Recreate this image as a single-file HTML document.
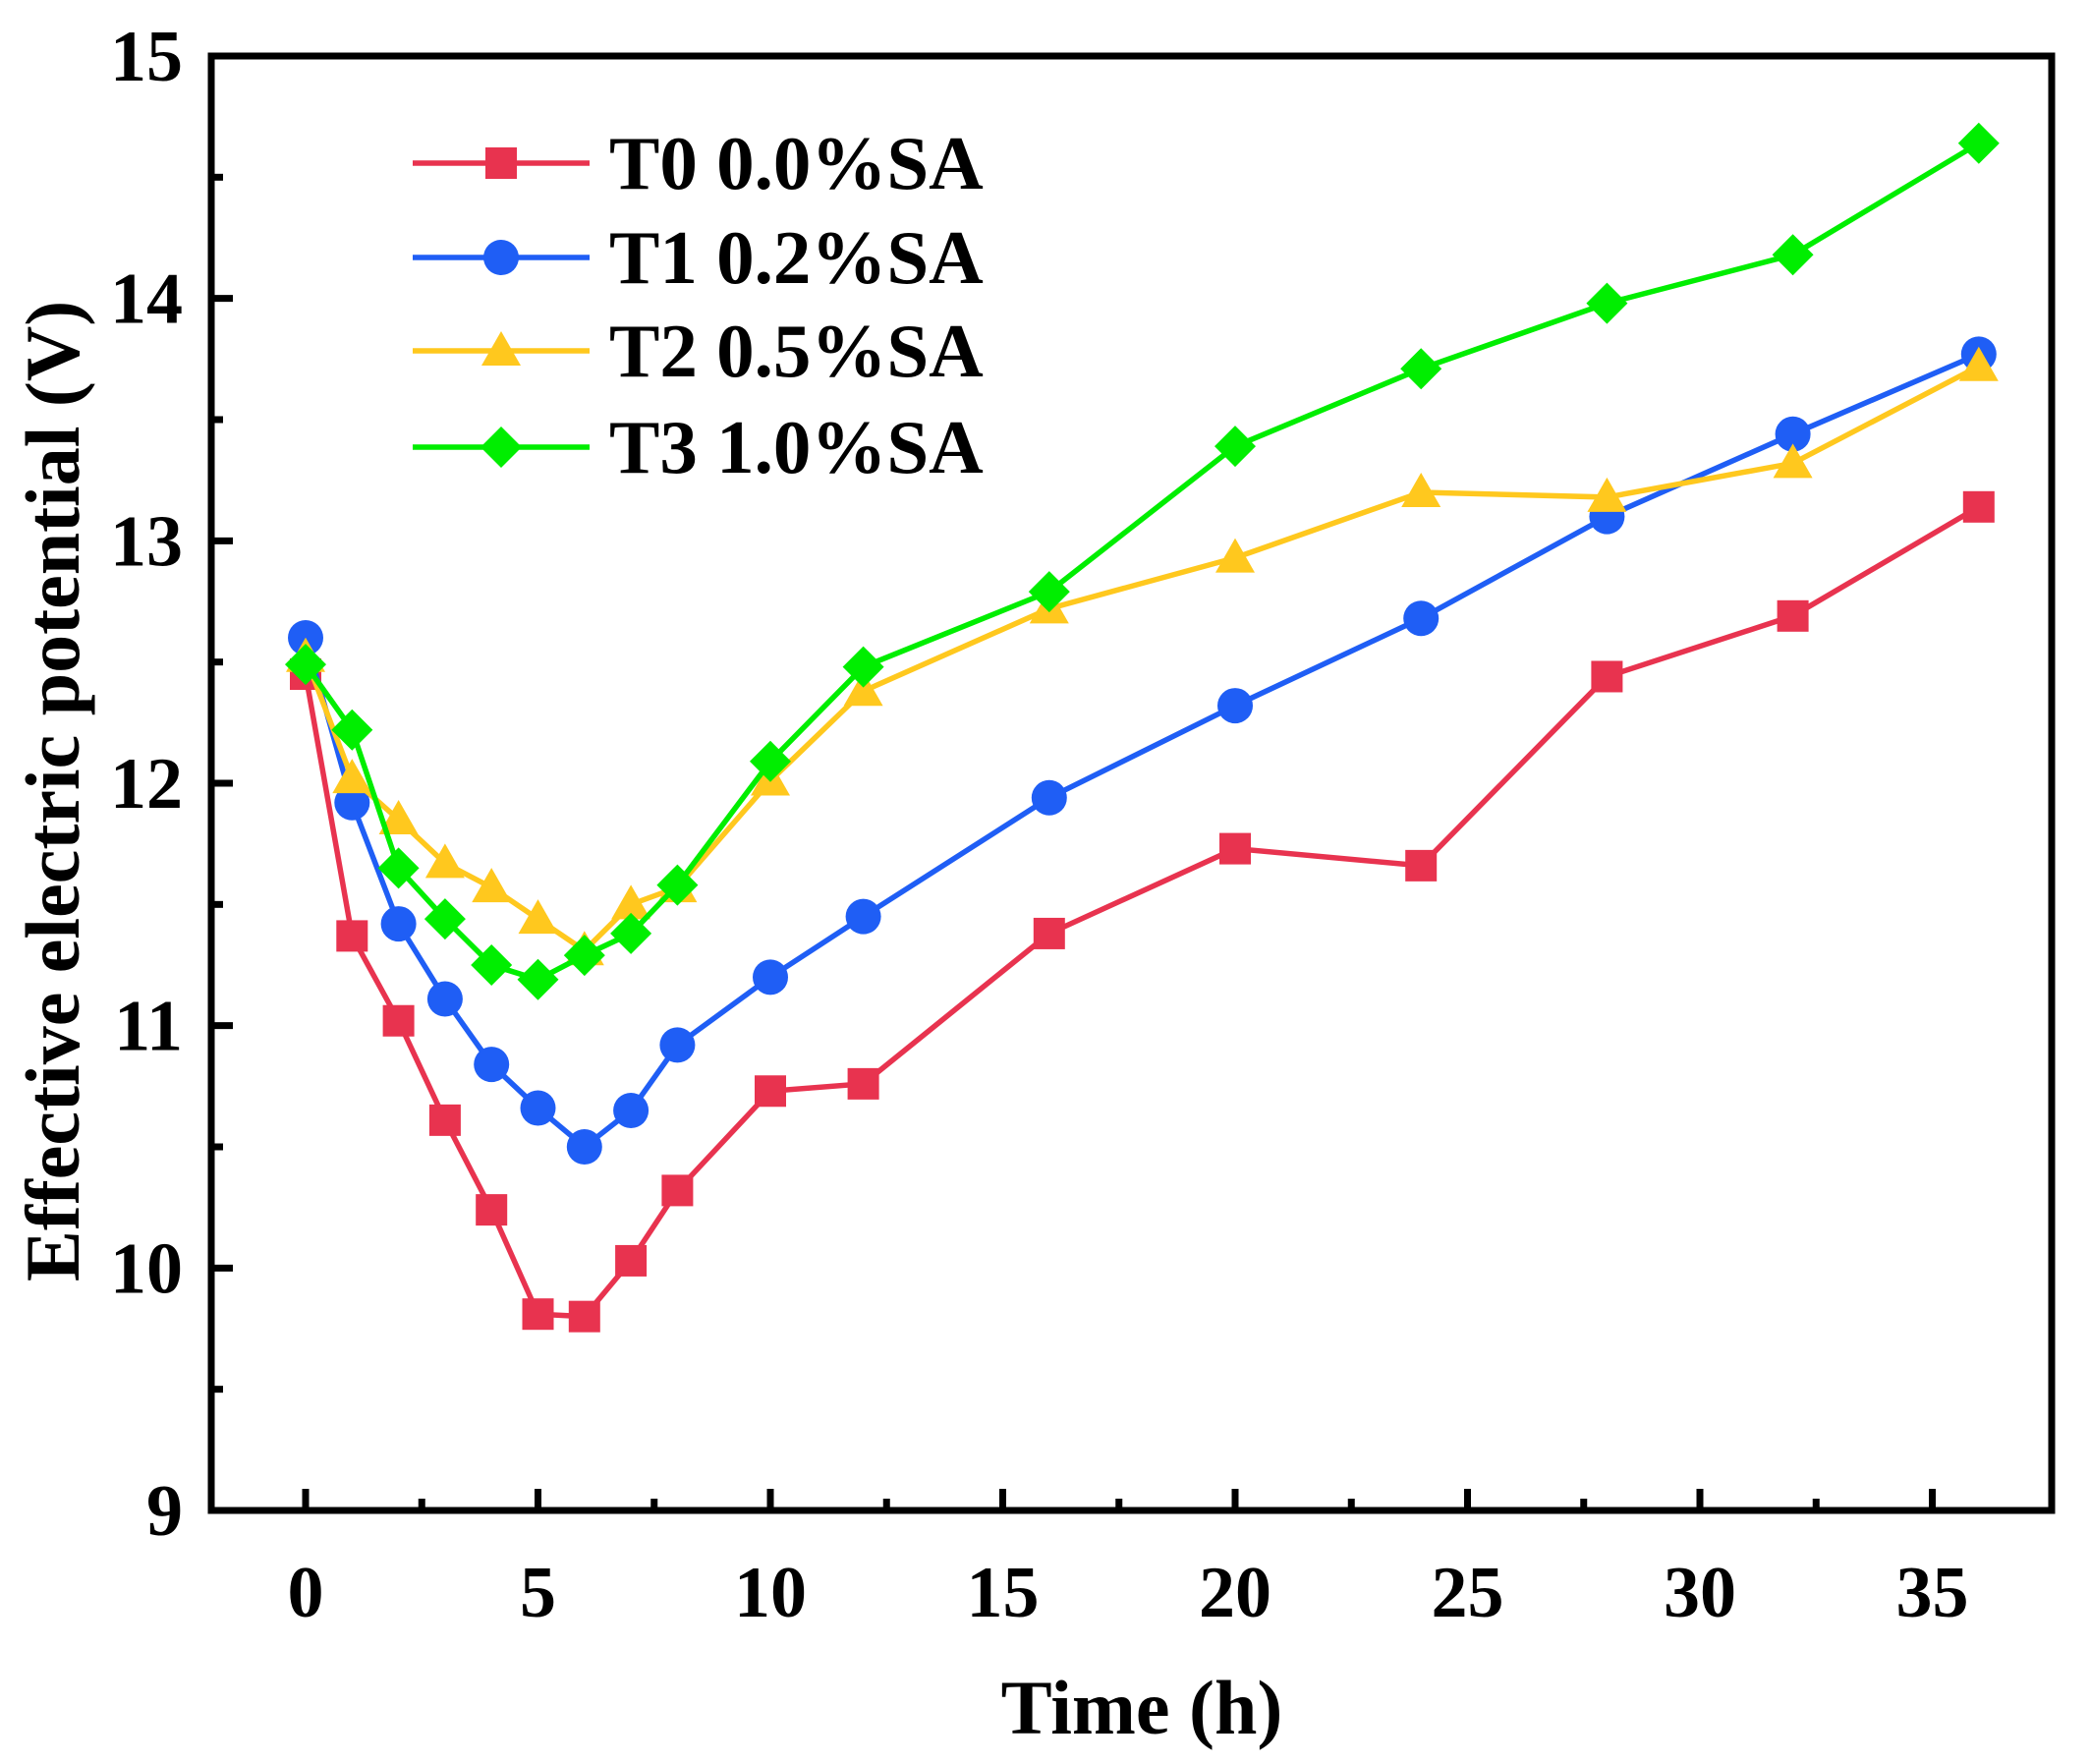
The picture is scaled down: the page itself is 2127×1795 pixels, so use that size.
<!DOCTYPE html>
<html><head><meta charset="utf-8"><style>
html,body{margin:0;padding:0;background:#fff;}
svg text{font-family:"Liberation Serif",serif;font-weight:bold;fill:#000;}
</style></head><body>
<svg id="chart" width="2127" height="1790" xmlns="http://www.w3.org/2000/svg">
<g id="plot"></g>
</svg>
<script>
const times=[0,1,2,3,4,5,6,7,8,10,12,16,20,24,28,32,36];
const t0=[12.45,11.37,11.02,10.61,10.24,9.81,9.80,10.03,10.32,10.73,10.76,11.38,11.73,11.66,12.44,12.69,13.14];
const t1=[12.60,11.92,11.42,11.11,10.84,10.66,10.50,10.65,10.92,11.20,11.45,11.94,12.32,12.68,13.10,13.44,13.77];
const t2=[12.52,12.02,11.85,11.67,11.57,11.44,11.31,11.50,11.57,12.01,12.38,12.72,12.93,13.20,13.18,13.32,13.72];
const t3=[12.49,12.22,11.65,11.44,11.25,11.19,11.29,11.38,11.58,12.09,12.48,12.79,13.39,13.71,13.98,14.18,14.64];
const xTicks=[0,5,10,15,20,25,30,35];
const yTicks=[9,10,11,12,13,14,15];
const seriesNames=["T0 0.0%SA","T1 0.2%SA","T2 0.5%SA","T3 1.0%SA"];

const NS="http://www.w3.org/2000/svg";
const svg=document.getElementById('chart');
const L=215,R=2088,T=57,B=1537;
const xs=v=>311+v*47.3;
const ys=v=>B-(v-9)*(B-T)/6;
function mk(tag,attrs,parent){const e=document.createElementNS(NS,tag);for(const k in attrs)e.setAttribute(k,attrs[k]);(parent||svg).appendChild(e);return e;}

xTicks.forEach(v=>{
 const t=mk('line',{x1:xs(v),x2:xs(v),y1:B,y2:B-22,stroke:'#000','stroke-width':7});
 
 
 if(v<35){const m=mk('line',{x1:xs(v+2.5),x2:xs(v+2.5),y1:B,y2:B-12,stroke:'#000','stroke-width':7});
 
 }
 const l=mk('text',{x:xs(v),y:1645,'text-anchor':'middle','font-size':74});l.textContent=v;
 
 
});
yTicks.forEach(v=>{
 const t=mk('line',{x1:L,x2:L+22,y1:ys(v),y2:ys(v),stroke:'#000','stroke-width':7});
 
 
 if(v<15){const m=mk('line',{x1:L,x2:L+12,y1:ys(v+0.5),y2:ys(v+0.5),stroke:'#000','stroke-width':7});
 
 }
 const l=mk('text',{x:186,y:ys(v)+25,'text-anchor':'end','font-size':74});l.textContent=v;
 
 
});
const frame=mk('rect',{x:L,y:T,width:R-L,height:B-T,fill:'none',stroke:'#000','stroke-width':7});



function marker(type,x,y,c,g){
 let e;
 if(type==='sq')e=mk('rect',{x:x-16,y:y-16,width:32,height:32,fill:c},g);
 else if(type==='ci')e=mk('circle',{cx:x,cy:y,r:18,fill:c},g);
 else if(type==='tr')e=mk('polygon',{points:`${x},${y-20} ${x+20},${y+15} ${x-20},${y+15}`,fill:c},g);
 else e=mk('polygon',{points:`${x},${y-21} ${x+21},${y} ${x},${y+21} ${x-21},${y}`,fill:c},g);
 return e;
}
const series=[[t0,'#e8334f','sq'],[t1,'#1f5ef5','ci'],[t2,'#ffc81e','tr'],[t3,'#00ee00','di']];
series.forEach((s,i)=>{
 const g=mk('g',{});
 
 
 const p=mk('polyline',{points:times.map((t,j)=>xs(t)+','+ys(s[0][j])).join(' '),fill:'none',stroke:s[1],'stroke-width':5.5},g);
 
 
 times.forEach((t,j)=>{const m=marker(s[2],xs(t),ys(s[0][j]),s[1],g);
 
 });
 const ly=[166,262,357,455][i];
 const lg=mk('g',{});
 
 
 mk('line',{x1:420,x2:600,y1:ly,y2:ly,stroke:s[1],'stroke-width':5.5},lg);
 marker(s[2],510,ly,s[1],lg);
 const lt=mk('text',{x:620,y:ly+26,'font-size':77},lg);lt.textContent=seriesNames[i];
});
const xt=mk('text',{x:1162,y:1764,'text-anchor':'middle','font-size':78});xt.textContent='Time (h)';


const yt=mk('text',{x:0,y:0,'text-anchor':'middle','font-size':78,transform:'translate(80,805) rotate(-90)'});yt.textContent='Effective electric potential (V)';


</script>
</body></html>
